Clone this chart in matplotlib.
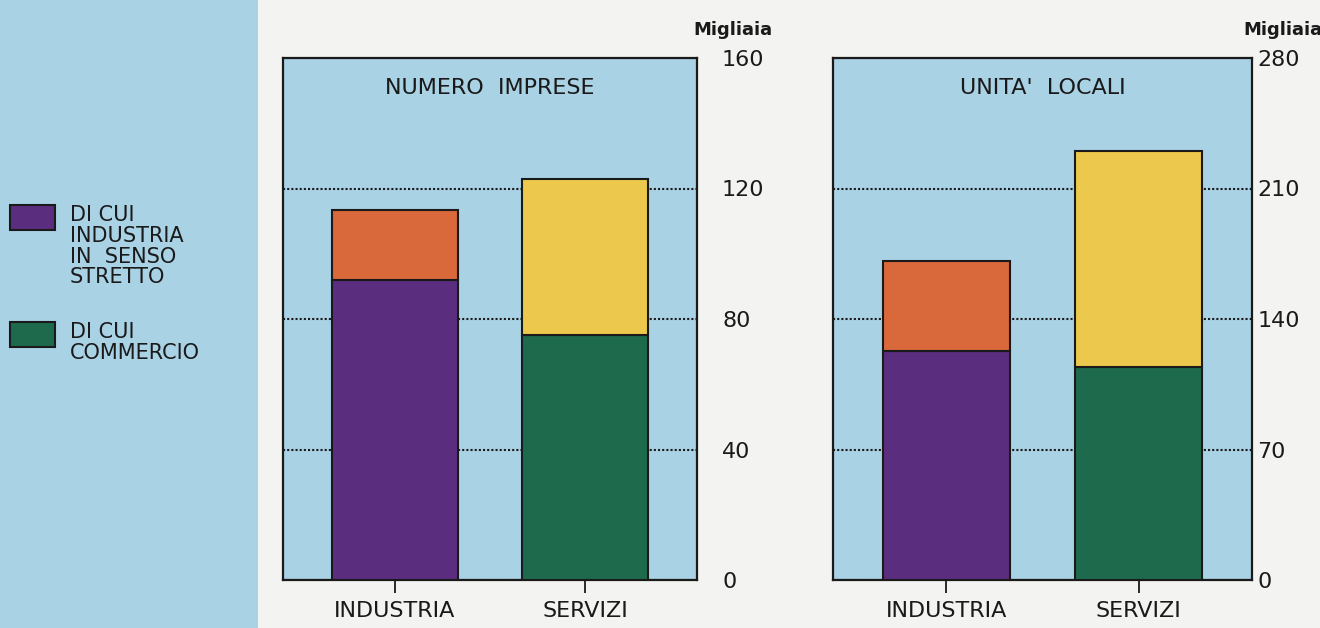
import numpy as np
import matplotlib
matplotlib.use('Agg')
from matplotlib import pyplot as plt
from matplotlib.patches import Rectangle

plt.rcParams['font.family'] = ['DejaVu Sans']

# data (migliaia)
categories = ['INDUSTRIA', 'SERVIZI']
titles = ['NUMERO  IMPRESE', "UNITA'  LOCALI"]
imprese_base = [92, 75]       # di cui industria in senso stretto / di cui commercio
imprese_tot = [113.5, 123]
unita_base = [123, 114]
unita_tot = [171, 230]
ymax = [160, 280]
yticks = [[0, 40, 80, 120, 160], [0, 70, 140, 210, 280]]
legend_labels = ['DI CUI\nINDUSTRIA\nIN  SENSO\nSTRETTO', 'DI CUI\nCOMMERCIO']

bg_blue = '#a9d2e5'
purple = '#5b2d7f'
orange = '#d9683b'
yellow = '#ecc94c'
green = '#1d6a4c'
ink = '#1a1a1a'

fig = plt.figure(figsize=(13.2, 6.28), dpi=100, facecolor='#f3f3f2')

# left blue strip
fig.patches.append(Rectangle((0, 0), 258 / 1320, 1, transform=fig.transFigure,
                             facecolor=bg_blue, edgecolor='none', zorder=0))

axes_pos = [[283 / 1320, 48 / 628, 414 / 1320, 522 / 628],
            [833 / 1320, 48 / 628, 419 / 1320, 522 / 628]]
pads = [18, 4]
migliaia_x = [733 / 1320, 1283 / 1320]

x = np.arange(len(categories))
for i, (base, tot) in enumerate([(imprese_base, imprese_tot), (unita_base, unita_tot)]):
    ax = fig.add_axes(axes_pos[i])
    ax.set_facecolor(bg_blue)
    top = np.array(tot) - np.array(base)
    ax.bar(x, base, width=0.66, color=[purple, green], edgecolor=ink,
           linewidth=1.5, zorder=3)
    ax.bar(x, top, bottom=base, width=0.66, color=[orange, yellow],
           edgecolor=ink, linewidth=1.5, zorder=3)
    ax.set_xlim(-0.59, 1.59)
    ax.set_ylim(0, ymax[i])
    ax.yaxis.tick_right()
    ax.set_yticks(yticks[i])
    ax.tick_params(axis='y', length=0, pad=pads[i], labelsize=16, labelcolor=ink)
    ax.set_xticks(x)
    ax.set_xticklabels(categories)
    ax.tick_params(axis='x', length=9, width=1.3, direction='out', pad=6,
                   labelsize=16, labelcolor=ink, color=ink)
    ax.grid(axis='y', linestyle=(0, (1, 1)), color=ink, linewidth=1.5, zorder=1)
    for s in ax.spines.values():
        s.set_linewidth(1.6)
        s.set_color(ink)
    ax.text(0.5, 0.943, titles[i], transform=ax.transAxes, ha='center',
            va='center', fontsize=16, color=ink)
    fig.text(migliaia_x[i], 1 - 30 / 628, 'Migliaia', ha='center', va='center',
             fontsize=13, color=ink, fontweight='semibold')

# legend in the strip
leg_colors = [purple, green]
leg_tops = [205, 322]
for c, t, lab in zip(leg_colors, leg_tops, legend_labels):
    fig.patches.append(Rectangle((10 / 1320, 1 - (t + 25) / 628), 45 / 1320, 25 / 628,
                                 transform=fig.transFigure, facecolor=c,
                                 edgecolor=ink, linewidth=1.5, zorder=2))
    fig.text(70 / 1320, 1 - t / 628, lab, ha='left', va='top', fontsize=15,
             color=ink, linespacing=1.05)

fig.savefig('out.png', dpi=100, facecolor=fig.get_facecolor())
